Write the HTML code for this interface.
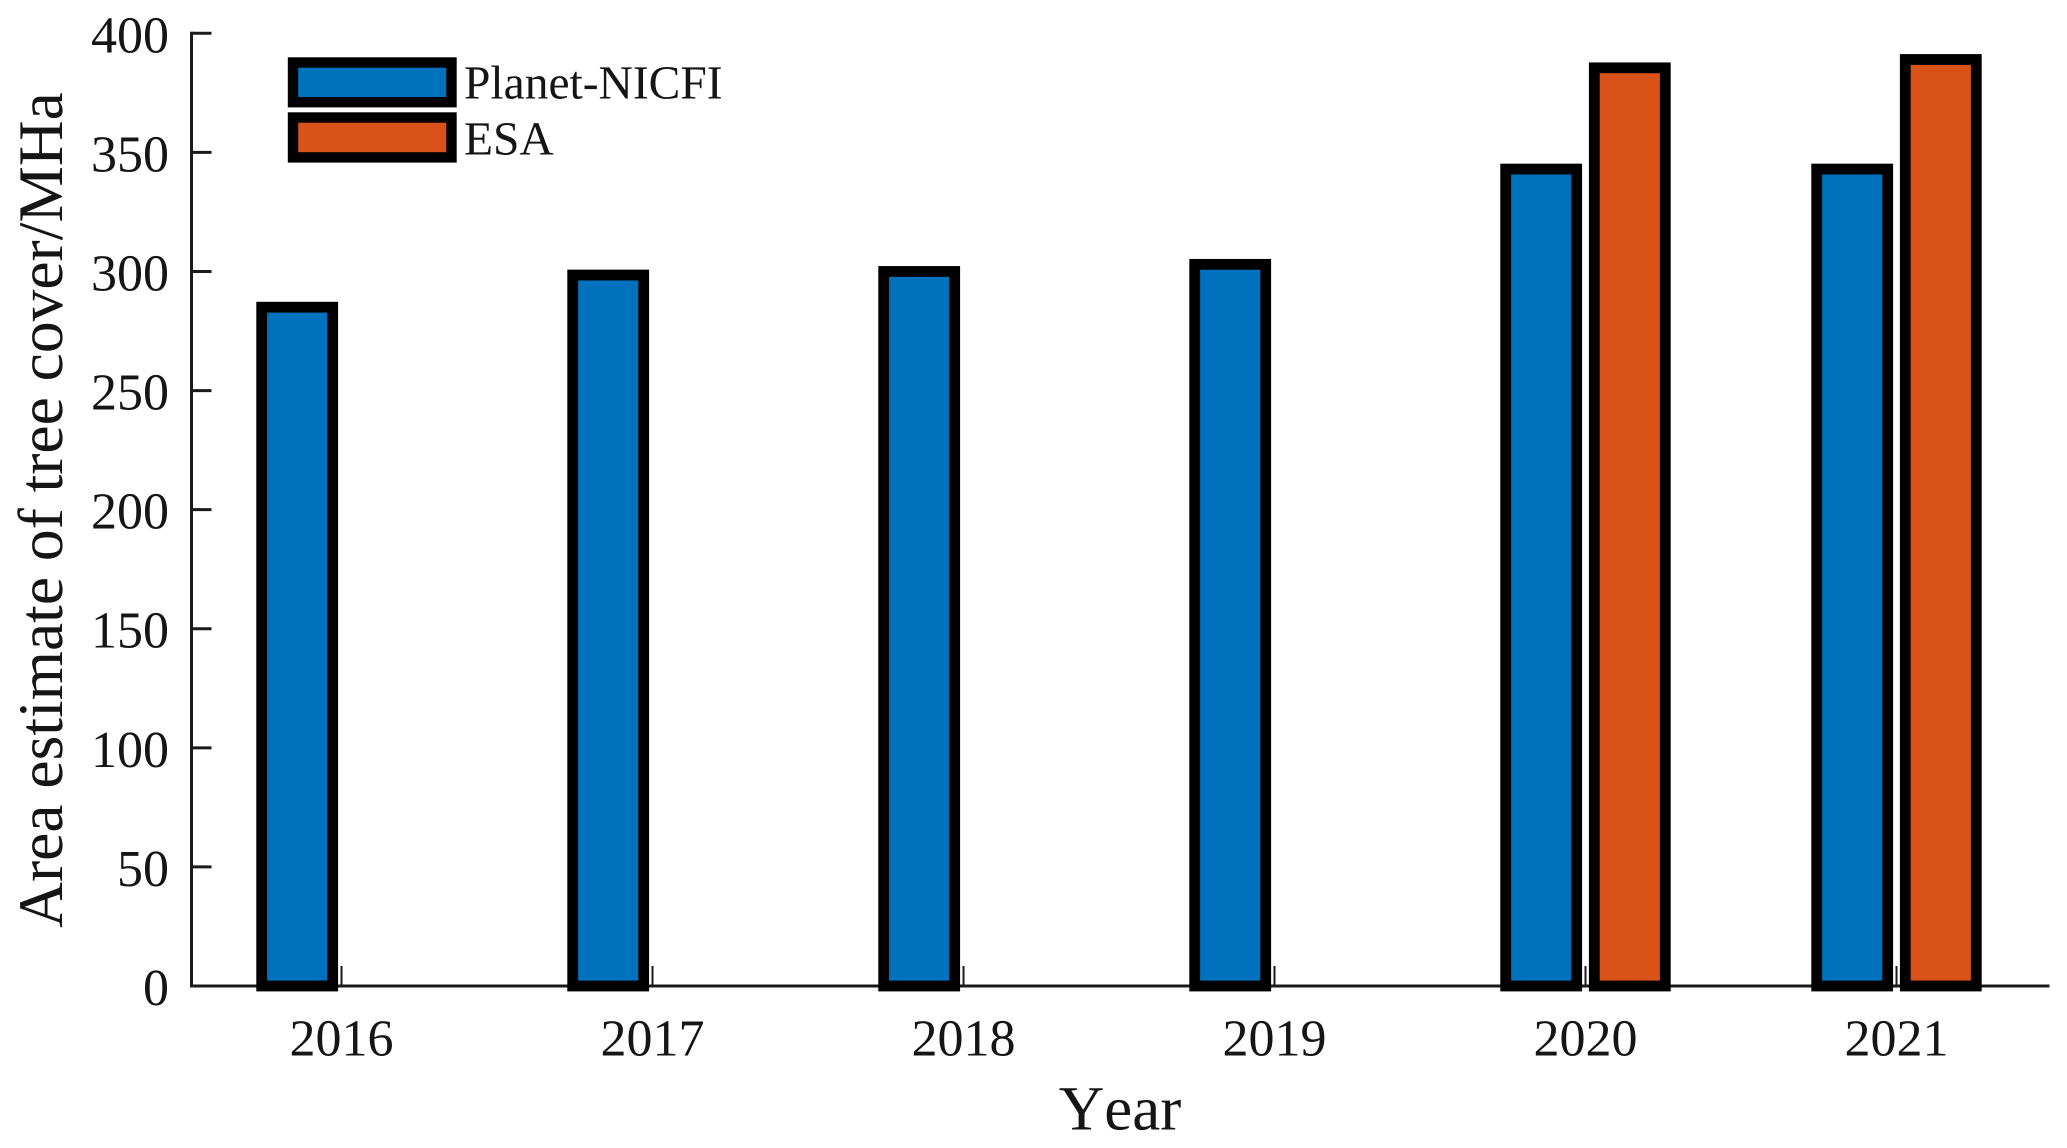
<!DOCTYPE html>
<html lang="en">
<head>
<meta charset="utf-8">
<title>Area estimate of tree cover</title>
<style>
  html, body { margin: 0; padding: 0; background: #fff; }
  svg { display: block; }
  text { font-family: "Liberation Serif", serif; fill: #151515; font-kerning: none; text-rendering: geometricPrecision; }
</style>
</head>
<body>
<svg id="chart" xmlns="http://www.w3.org/2000/svg" width="2067" height="1148" viewBox="0 0 2067 1148"></svg>
<script>
const categories = ['2016', '2017', '2018', '2019', '2020', '2021'];
const planetValues = [285, 298.5, 300, 303, 343, 343];
const esaValues = [null, null, null, null, 385.5, 389];
const yTickValues = [0, 50, 100, 150, 200, 250, 300, 350, 400];

const svgNS = 'http://www.w3.org/2000/svg';
const svg = document.getElementById('chart');

function yScale(v) { return 986 - v * (952.7 / 400); }
function xScale(i) { return 341.5 + i * 311; }

function make(tag, attrs, parent) {
  const el = document.createElementNS(svgNS, tag);
  for (const k in attrs) el.setAttribute(k, attrs[k]);
  (parent || svg).appendChild(el);
  return el;
}

const BAR_W = 71, STROKE = 10.8, OFFSET = 44.3, AXIS = '#1a1a1a';

function drawBar(i, value, dir, color, name) {
  if (value === null) return;
  const cx = xScale(i) + dir * OFFSET;
  const top = yScale(value);
  const r = make('rect', { x: cx - BAR_W / 2, y: top, width: BAR_W, height: yScale(0) - top, fill: color, stroke: '#000', 'stroke-width': STROKE });
  
  
}

/* x tick marks sit behind the bars */
categories.forEach((c, i) => {
  const t = make('line', { x1: xScale(i), x2: xScale(i), y1: yScale(0), y2: yScale(0) - 20, stroke: AXIS, 'stroke-width': 2 });
  
  
});

/* axes */
const yAxis = make('line', { x1: 191.5, x2: 191.5, y1: yScale(400) - 1.5, y2: yScale(0) + 1.5, stroke: AXIS, 'stroke-width': 3 });


const xAxis = make('line', { x1: 190, x2: 2049.5, y1: yScale(0), y2: yScale(0), stroke: AXIS, 'stroke-width': 3 });



/* y ticks and labels */
yTickValues.forEach(v => {
  const t = make('line', { x1: 191.5, x2: 211.5, y1: yScale(v), y2: yScale(v), stroke: AXIS, 'stroke-width': 3 });
  
  
  const l = make('text', { x: 169, y: yScale(v) + 19, 'text-anchor': 'end', 'font-size': 52 });
  l.textContent = String(v);
  
  
});

/* bars */
categories.forEach((c, i) => {
  drawBar(i, planetValues[i], -1, '#0071bd', 'planet-nicfi');
  drawBar(i, esaValues[i], 1, '#d95319', 'esa');
});

/* x tick labels */
categories.forEach((c, i) => {
  const l = make('text', { x: xScale(i), y: 1055.7, 'text-anchor': 'middle', 'font-size': 52 });
  l.textContent = c;
  
  
});
</script>
<script>
/* titles and legend */
(function () {
  const xt = make('text', { x: 1120, y: 1129.5, 'text-anchor': 'middle', 'font-size': 63 });
  xt.textContent = 'Year';
  
  

  const yt = make('text', { x: 0, y: 0, 'text-anchor': 'middle', 'font-size': 63.5, transform: 'translate(62 510) rotate(-90)' });
  yt.textContent = 'Area estimate of tree cover/MHa';
  
  

  const legend = make('g', {});
  
  

  const p1 = make('rect', { x: 293, y: 62.5, width: 158.5, height: 39.7, fill: '#0071bd', stroke: '#000', 'stroke-width': 10.4 }, legend);
  
  
  const t1 = make('text', { x: 464, y: 98.7, 'font-size': 47.5 }, legend);
  t1.textContent = 'Planet-NICFI';
  
  

  const p2 = make('rect', { x: 293, y: 117.5, width: 158.5, height: 39.9, fill: '#d95319', stroke: '#000', 'stroke-width': 10.4 }, legend);
  
  
  const t2 = make('text', { x: 464, y: 154.3, 'font-size': 47.5 }, legend);
  t2.textContent = 'ESA';
  
  
})();
</script>
</body>
</html>
